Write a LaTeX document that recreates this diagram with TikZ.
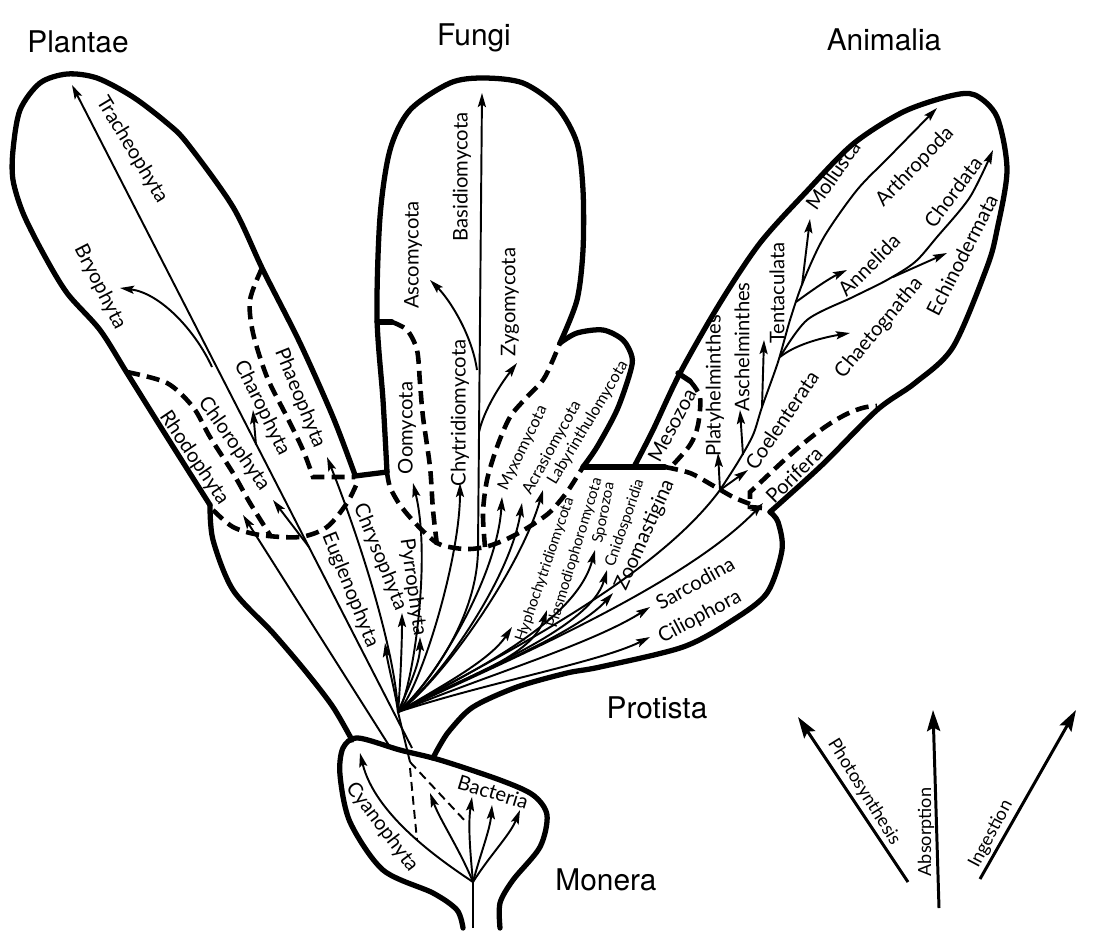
\documentclass[tikz,border=0pt]{standalone}
\usepackage{fontspec}
\newfontfamily\headfont{TeX Gyre Heros}
\newfontfamily\labfont{Lato}
\usetikzlibrary{arrows.meta}

\tikzset{
  outline/.style={line width=3pt, line cap=round, line join=round},
  border/.style={line width=2.6pt, dash pattern=on 7.5pt off 4pt},
  twig/.style={line width=1.1pt},
  branch/.style={line width=1.1pt, -{Stealth[length=8pt,width=4.6pt,inset=1.5pt]}},
  hint/.style={line width=1.1pt, dash pattern=on 5pt off 3pt},
  mode/.style={line width=1.7pt, -{Stealth[length=12pt,width=7.5pt,inset=2pt]}},
  kingdom/.style={font=\headfont\fontsize{17}{20}\selectfont},
  phylum/.style={font=\labfont\fontsize{11.5}{13}\selectfont, inner sep=0pt},
  minor/.style={font=\labfont\fontsize{8.6}{10}\selectfont, inner sep=0pt},
  middle/.style={font=\labfont\fontsize{9.2}{11}\selectfont, inner sep=0pt},
  legend/.style={font=\labfont\fontsize{10.3}{12}\selectfont, inner sep=0pt},
}

\begin{document}
\begin{tikzpicture}[x=0.02cm,y=-0.02cm]
\useasboundingbox (0,0) rectangle (1112,937);

% kingdom names
\node[kingdom] (plantae) at (78,42) {Plantae};
\node[kingdom] (fungi) at (474,38) {Fungi};
\node[kingdom] (animalia) at (884,40) {Animalia};
\node[kingdom] (protista) at (657,708) {Protista};
\node[kingdom] (monera) at (606,880) {Monera};

% roots of the branches
\coordinate (root) at (398,712);
\coordinate (plant) at (412,748);
\coordinate (rhodo) at (390,747);
\coordinate (fung) at (478,548);
\coordinate (anim) at (720,490);
\coordinate (bact) at (473,882);

% kingdom outlines
\draw[outline] plot[smooth] coordinates {(210,505) (167,437) (127,373) (100,330) (67,293) (43,253) (23,213) (13,180) (13,150) (20,110) (40,83) (67,74) (97,78) (133,97) (167,123) (187,143) (233,207) (263,270) (300,343) (333,417) (355,475)};
\draw[outline] plot[smooth] coordinates {(210,505) (213,540) (233,590) (273,633) (307,673) (333,707) (352,740)};
\draw[outline] (355,476) -- (387,472);
\draw[outline] (583,467) -- (665,467);
\draw[outline] plot[smooth] coordinates {(387,472) (383,400) (377,317) (380,217) (390,150) (410,110) (450,83) (483,78) (523,83) (557,107) (577,143) (583,190) (583,250) (577,300) (560,343)};
\draw[outline] plot[smooth] coordinates {(560,343) (577,333) (603,330) (623,340) (632,357) (630,373) (617,410) (597,447) (583,467)};
\draw[outline] plot[smooth] coordinates {(635,465) (653,430) (680,373) (720,303) (760,243) (807,191) (853,144) (903,112) (950,96) (975,95) (997,117) (1007,170) (997,230) (987,267) (953,347) (915,383) (877,410) (822,465) (770,512)};
\draw[outline] plot[smooth] coordinates {(433,758) (440,745) (450,730) (473,707) (517,687) (567,673) (600,667) (683,647) (733,620) (767,593) (782,550) (778,522) (770,512)};
\draw[outline] plot[smooth] coordinates {(463,928) (457,910) (433,893) (383,870) (350,822) (340,775) (343,748) (358,738) (400,750) (440,760) (500,780) (533,795) (547,815) (540,847) (513,880) (500,903) (500,928)};

% dashed borders between groups
\draw[border] plot[smooth] coordinates {(213,510) (233,527) (260,535) (300,537) (327,527) (347,503) (357,483)};
\draw[border] plot[smooth] coordinates {(127,372) (167,383) (193,407) (210,437) (233,473) (250,503) (270,535)};
\draw[border] plot[smooth] coordinates {(262,268) (250,300) (253,333) (267,377) (287,417) (303,450) (313,477)} -- (355,477);
\draw[outline] (377,322) -- (392,322);
\draw[border] plot[smooth] coordinates {(392,322) (407,330) (417,350) (420,383) (423,417) (430,467) (433,510) (437,545)};
\draw[border] plot[smooth] coordinates {(387,472) (390,487) (400,505) (417,525) (437,543) (455,548) (470,549) (485,547) (500,542) (515,535) (532,525) (550,512) (567,492) (583,467)};
\draw[border] plot[smooth] coordinates {(485,547) (483,513) (487,480) (497,447) (510,417) (527,397) (543,380) (552,362) (560,343)};
\draw[outline] (678,373) -- (690,381);
\draw[border] plot[smooth] coordinates {(690,381) (700,397) (698,425) (690,445) (670,468)};
\draw[border] plot[smooth] coordinates {(665,467) (690,473) (712,485) (733,497) (750,504)};
\draw[border] (762,508) -- (750,507) -- (750,492) .. controls (775,470) and (835,405) .. (877,406);

% plant lines
\draw[branch] (plant) -- (72,85);
\draw[branch] (212,367) .. controls (195,330) and (160,293) .. (120,288);
\draw[branch] (256,445) -- (253,410);
\draw[branch] (309,547) -- (273,500);
\draw[branch] (rhodo) -- (243,515);

% the protist fan
\foreach \ca/\cb/\tip in {
    {445,684}/{490,660}/{512,627},  {452,681}/{530,660}/{547,610},
    {460,677}/{575,625}/{595,550},  {465,676}/{590,630}/{607,570},
    {470,675}/{575,635}/{613,593},  {478,678}/{590,645}/{650,607},
    {485,683}/{600,662}/{650,637},  {480,672}/{680,590}/{763,503},
    {440,683}/{520,570}/{543,490},  {436,685}/{510,580}/{522,503},
    {430,687}/{497,580}/{502,497},  {420,690}/{460,560}/{460,483},
    {412,693}/{432,560}/{413,483},  {405,695}/{420,665}/{420,637},
    {400,690}/{402,645}/{402,613},  {396,695}/{388,665}/{385,643},
    {395,650}/{360,540}/{327,457}}
  \draw[branch] (root) .. controls (\ca) and (\cb) .. (\tip);
\draw[twig] (root) -- (410,762);

% fungi
\draw[branch] (root) .. controls (425,688) and (478,620) .. (fung) -- (482,93);
\draw[branch] (477,370) .. controls (472,335) and (450,300) .. (430,280);
\draw[branch] (479,432) .. controls (484,410) and (500,385) .. (517,363);

% animals
\draw[twig] (root) .. controls (475,668) and (650,585) .. (anim);
\draw[branch] (anim) -- (718,453);
\draw[branch] (anim) -- (748,470);
\draw[branch] plot[smooth] coordinates {(anim) (738,462) (753,435) (762,407) (778,362) (790,320) (803,282) (824,237) (857,190) (889,157) (937,108)};
\draw[branch] (743,455) -- (740,410);
\draw[branch] (762,407) -- (764,340);
\draw[branch] (802,285) -- (810,219);
\draw[branch] (796,302) .. controls (815,288) and (830,278) .. (847,270);
\draw[branch] (780,357) .. controls (795,345) and (820,338) .. (850,333);
\draw[branch] plot[smooth] coordinates {(780,357) (807,320) (853,297) (887,280) (915,262) (937,237) (970,197) (993,150)};
\draw[branch] (893,277) -- (947,253);

% monera
\draw[twig] (473,928) -- (bact);
\draw[branch] (bact) .. controls (440,860) and (375,815) .. (360,753);
\draw[branch] (bact) .. controls (460,850) and (440,820) .. (430,793);
\draw[branch] (bact) .. controls (470,850) and (468,825) .. (472,797);
\draw[branch] (bact) .. controls (480,855) and (490,830) .. (492,805);
\draw[branch] (bact) .. controls (490,855) and (510,835) .. (520,810);
\draw[hint] (410,762) -- (467,823);
\draw[hint] (410,768) -- (417,840);

% modes of nutrition
\draw[mode] (908,882) -- (798,717);
\draw[mode] (939,908) -- (933,710);
\draw[mode] (980,879) -- (1076,710);

% plant phyla
\node[phylum, rotate=-59] (trach) at (132,150) {Tracheophyta};
\node[phylum, rotate=-63] (bryo) at (100,287) {Bryophyta};
\node[phylum, rotate=-64] (charo) at (262,408) {Charophyta};
\node[phylum, rotate=-68] (phaeo) at (300,398) {Phaeophyta};
\node[phylum, rotate=-55] (chloro) at (234,444) {Chlorophyta};
\node[phylum, rotate=-56] (rhodoph) at (194,458) {Rhodophyta};
\node[phylum, rotate=-68] (eugl) at (350,590) {Euglenophyta};
\node[phylum, rotate=-68] (chrys) at (380,557) {Chrysophyta};
\node[phylum, rotate=-82] (pyrr) at (413,587) {Pyrrophyta};

% fungal phyla
\node[phylum, rotate=90] (basid) at (462,177) {Basidiomycota};
\node[phylum, rotate=90] (asco) at (413,255) {Ascomycota};
\node[phylum, rotate=90] (zygo) at (510,302) {Zygomycota};
\node[phylum, rotate=90] (oomy) at (407,428) {Oomycota};
\node[phylum, rotate=90] (chytr) at (460,413) {Chytridiomycota};
\node[middle, rotate=64] (myxo) at (523,448) {Myxomycota};
\node[middle, rotate=61] (acras) at (552,448) {Acrasiomycota};
\node[middle, rotate=59] (laby) at (588,423) {Labyrinthulomycota};

% protist phyla
\node[minor, rotate=71] (hypho) at (545,570) {Hyphochytridiomycota};
\node[minor, rotate=73] (plasm) at (575,553) {Plasmodiophoromycota};
\node[minor, rotate=79] (sporo) at (604,513) {Sporozoa};
\node[minor, rotate=71] (cnido) at (625,523) {Cnidosporidia};
\node[phylum, rotate=66] (zoom) at (645,535) {Zoomastigina};
\node[phylum, rotate=29] (sarco) at (695,583) {Sarcodina};
\node[phylum, rotate=28] (cilio) at (700,617) {Ciliophora};

% animal phyla
\node[phylum, rotate=62] (meso) at (672,425) {Mesozoa};
\node[phylum, rotate=45] (pori) at (794,475) {Porifera};
\node[phylum, rotate=90] (platy) at (715,386) {Platyhelminthes};
\node[phylum, rotate=90] (aschel) at (742,347) {Aschelminthes};
\node[phylum, rotate=90] (tenta) at (777,293) {Tentaculata};
\node[phylum, rotate=56] (coel) at (782,420) {Coelenterata};
\node[phylum, rotate=55] (moll) at (833,175) {Mollusca};
\node[phylum, rotate=46] (arthr) at (915,167) {Arthropoda};
\node[phylum, rotate=45] (annel) at (869,265) {Annelida};
\node[phylum, rotate=53] (chord) at (953,192) {Chordata};
\node[phylum, rotate=63] (echin) at (962,255) {Echinodermata};
\node[phylum, rotate=50] (chaet) at (879,328) {Chaetognatha};

% monera phyla
\node[phylum, rotate=-53] (cyano) at (382,827) {Cyanophyta};
\node[phylum, rotate=-17] (bacter) at (493,792) {Bacteria};

% legend
\node[legend, rotate=-58] (photo) at (864,792) {Photosynthesis};
\node[legend, rotate=90] (absor) at (926,832) {Absorption};
\node[legend, rotate=62] (inges) at (991,834) {Ingestion};
\end{tikzpicture}
\end{document}
